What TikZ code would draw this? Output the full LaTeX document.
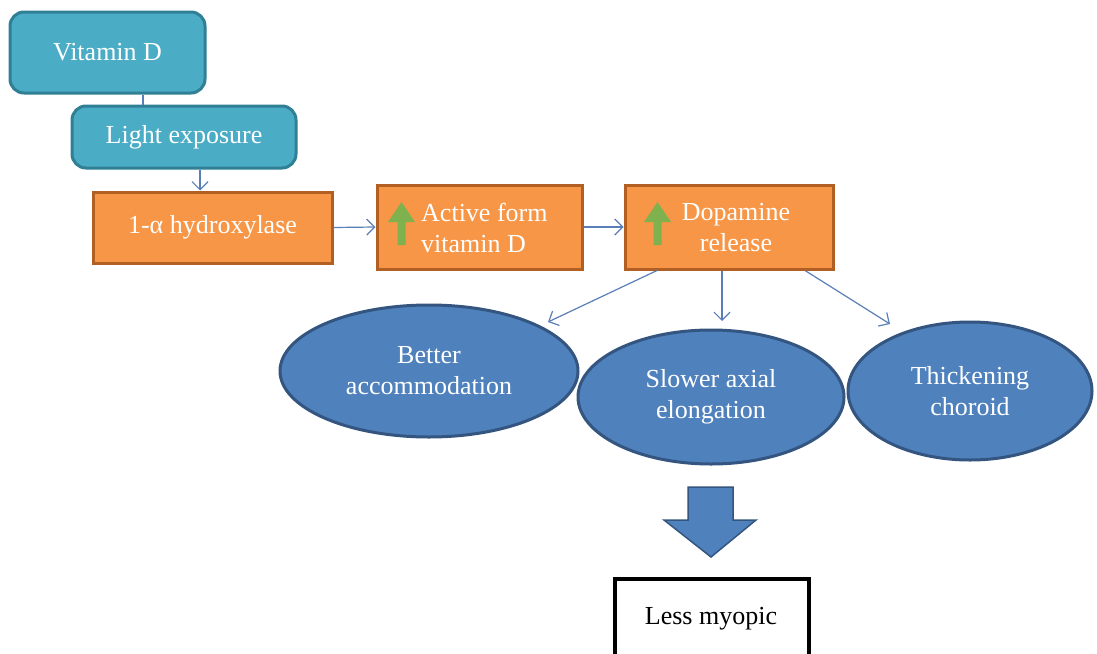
\documentclass[tikz,border=0pt]{standalone}
\usepackage{fontspec}
\setmainfont{Liberation Serif}
\usetikzlibrary{arrows.meta,shapes.geometric}
\definecolor{tealfill}{HTML}{4BACC6}
\definecolor{tealdraw}{HTML}{2F7F95}
\definecolor{orfill}{HTML}{F79646}
\definecolor{ordraw}{HTML}{B25F24}
\definecolor{blfill}{HTML}{4F81BD}
\definecolor{bldraw}{HTML}{33557F}
\definecolor{conn}{HTML}{5A7FB8}
\definecolor{grarrow}{HTML}{7FB24E}
\tikzset{
  txt/.style={font=\fontsize{26}{31}\selectfont, text=white, inner sep=0pt},
  tealbox/.style={txt, draw=tealdraw, fill=tealfill, line width=3pt, rounded corners=14pt},
  orbox/.style={txt, draw=ordraw, fill=orfill, line width=3pt},
  oval/.style={txt, ellipse, draw=bldraw, fill=blfill, line width=3pt, align=center},
  conline/.style={draw=conn, line width=1.2pt},
  conarrow/.style={conline, -{Straight Barb[length=8pt,width=16pt,line width=1.2pt]}},
  uparrow/.style={fill=grarrow, draw=none},
}
\begin{document}
\begin{tikzpicture}[x=1pt,y=-1pt]
\clip (0,0) rectangle (1097,653);
\fill[white] (0,0) rectangle (1097,653);

\node[tealbox, minimum width=195pt, minimum height=81pt] (vitd) at (107.5,52.5) {Vitamin D};
\node[tealbox, minimum width=224pt, minimum height=62pt] (light) at (184,137) {Light exposure};
\node[orbox, minimum width=239pt, minimum height=71pt] (hyd) at (212.5,227.5) {1-α hydroxylase};
\node[orbox, minimum width=205pt, minimum height=84pt] (act) at (479.5,227) {};
\node[orbox, minimum width=208pt, minimum height=84pt] (dop) at (729,227) {};

\node[txt, align=left, anchor=west] (acttxt) at (421,228) {Active form\\vitamin D};
\node[txt, align=center] (doptxt) at (736,228) {Dopamine\\release};

% green up arrows
\fill[uparrow] (401.5,202) -- (415,222) -- (405.5,222) -- (405.5,245) -- (397.5,245) -- (397.5,222) -- (388,222) -- cycle;
\fill[uparrow] (657.5,202) -- (671,222) -- (661.5,222) -- (661.5,245) -- (653.5,245) -- (653.5,222) -- (644,222) -- cycle;

\node[oval, minimum width=298pt, minimum height=132pt] (ell1) at (429,371) {Better\\accommodation};
\node[oval, minimum width=266pt, minimum height=134pt] (ell2) at (711,397) {Slower axial\\elongation};
\node[oval, minimum width=244pt, minimum height=138pt] (ell3) at (970,391) {Thickening\\choroid};

\node[txt, text=black, draw=black, line width=4pt, fill=white, minimum width=194pt, minimum height=90pt] (less) at (712,624) {};
\node[txt, text=black] (lesstxt) at (711,619) {Less myopic};

% connectors
\draw[conline] ([xshift=35.5pt]vitd.south) -- ([xshift=35.5pt]vitd.south |- light.north);
\draw[conarrow] ([xshift=16pt]light.south) -- ([xshift=16pt]light.south |- hyd.north);
\draw[conarrow] (hyd.east) -- (act.west);
\draw[conarrow] (act.east) -- (dop.west);

\coordinate (t1) at (548,322);
\coordinate (t2) at (722,321);
\coordinate (t3) at (890,324);
\draw[conarrow] ([xshift=-72pt]dop.south) -- (t1);
\draw[conarrow] ([xshift=-7pt]dop.south) -- (t2);
\draw[conarrow] ([xshift=76pt]dop.south) -- (t3);

% big down arrow
\draw[fill=blfill, draw=bldraw, line width=1.5pt, line join=miter]
  (688,487) -- (733,487) -- (733,520) -- (756,520) -- (711,557) -- (664,520) -- (688,520) -- cycle;
\end{tikzpicture}
\end{document}
